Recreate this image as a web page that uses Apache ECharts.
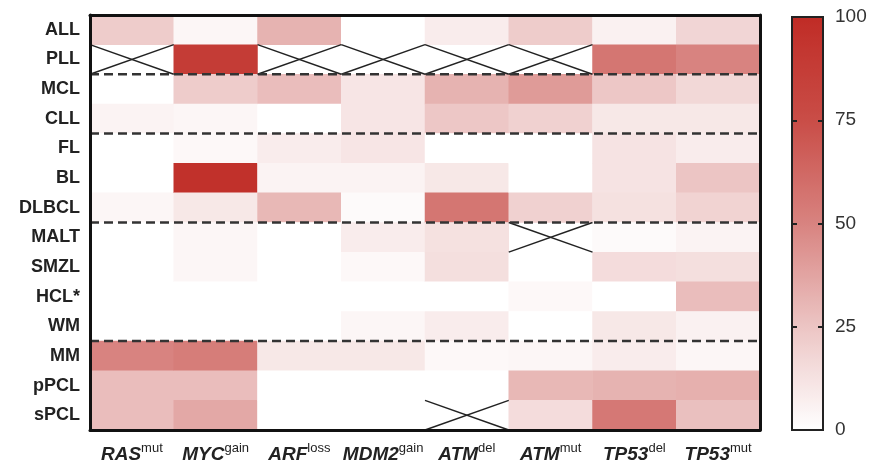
<!DOCTYPE html>
<html>
<head>
<meta charset="utf-8">
<script src="https://cdn.jsdelivr.net/npm/echarts@6/dist/echarts.min.js"></script>
<style>
  html, body { margin: 0; padding: 0; background: #fff; }
  #chart { width: 873px; height: 467px; }
</style>
</head>
<body>
<div id="chart"></div>
<script>
// Tumour entities (rows, top to bottom)
const tumours = ['ALL', 'PLL', 'MCL', 'CLL', 'FL', 'BL', 'DLBCL', 'MALT', 'SMZL', 'HCL*', 'WM', 'MM', 'pPCL', 'sPCL'];
// Alterations (columns): gene name and superscript tag
const genes = ['RAS', 'MYC', 'ARF', 'MDM2', 'ATM', 'ATM', 'TP53', 'TP53'];
const tags = ['mut', 'gain', 'loss', 'gain', 'del', 'mut', 'del', 'mut'];

// Frequency (%) per tumour entity for each alteration; null = not available
const rasMut   = [22, null, 0, 5, 0, 0, 4, 0, 0, 0, 0, 50, 28, 28];
const mycGain  = [4, 88, 22, 4, 3, 96, 10, 4, 4, 0, 0, 53, 28, 36];
const arfLoss  = [32, null, 28, 0, 8, 5, 30, 0, 0, 0, 0, 10, 0, 0];
const mdm2Gain = [0, null, 11, 11, 11, 5, 2, 8, 3, 0, 4, 10, 0, 0];
const atmDel   = [8, null, 32, 24, 0, 10, 56, 13, 14, 0, 8, 3, 0, null];
const atmMut   = [22, null, 41, 20, 0, 0, 20, null, 0, 3, 0, 4, 30, 15];
const tp53Del  = [6, 56, 24, 10, 12, 12, 13, 2, 15, 0, 10, 8, 32, 55];
const tp53Mut  = [18, 50, 17, 10, 8, 25, 19, 5, 14, 28, 6, 4, 33, 27];

const columns = [rasMut, mycGain, arfLoss, mdm2Gain, atmDel, atmMut, tp53Del, tp53Mut];
// Group separators: dashed line drawn below these rows
const groupEnds = ['PLL', 'CLL', 'DLBCL', 'WM'];
// Colour bar ticks
const barTicks = [0, 25, 50, 75, 100];

const cells = [];
const missing = [];
columns.forEach((col, ci) => {
  col.forEach((v, ri) => {
    if (v === null) missing.push([ci, ri]);
    else cells.push([ci, ri, v]);
  });
});

const xLabels = genes.map((g, i) => '{g|' + g + '}{s|' + tags[i] + '}');

const chart = echarts.init(document.getElementById('chart'));
chart.setOption({
  animation: false,
  backgroundColor: '#fff',
  grid: [
    { left: 90, right: 113, top: 15, bottom: 37 },
    { left: 792, width: 31, top: 17, bottom: 37, show: true, z: 6,
      backgroundColor: 'transparent', borderColor: '#222', borderWidth: 2 }
  ],
  xAxis: [
    {
      type: 'category', data: xLabels, gridIndex: 0, z: 10,
      axisLine: { show: true, lineStyle: { color: '#111', width: 3 } },
      axisTick: { show: false },
      splitLine: { show: false },
      axisLabel: {
        interval: 0,
        margin: 12,
        rich: {
          g: { fontFamily: 'Liberation Sans', fontStyle: 'italic', fontWeight: 'bold', fontSize: 19, color: '#222', lineHeight: 22, verticalAlign: 'bottom' },
          s: { fontFamily: 'Liberation Sans', fontSize: 13, color: '#222', lineHeight: 22, verticalAlign: 'top', padding: [0, 0, 6, 0] }
        }
      }
    },
    {
      type: 'category', data: xLabels, gridIndex: 0, position: 'top', z: 10,
      axisLine: { show: true, lineStyle: { color: '#111', width: 3 } },
      axisTick: { show: false }, axisLabel: { show: false }
    },
    { type: 'value', gridIndex: 1, show: false, min: 0, max: 1 }
  ],
  yAxis: [
    {
      type: 'category', data: tumours, inverse: true, gridIndex: 0, z: 10,
      axisLine: { show: true, lineStyle: { color: '#111', width: 3 } },
      axisTick: { show: false },
      axisLabel: { interval: 0, margin: 10, fontFamily: 'Liberation Sans', fontWeight: 'bold', fontSize: 18, color: '#222' }
    },
    {
      type: 'category', data: tumours, inverse: true, gridIndex: 0, position: 'right', z: 10,
      axisLine: { show: true, lineStyle: { color: '#111', width: 3 } },
      axisTick: { show: false }, axisLabel: { show: false }
    },
    {
      // colour bar scale: short marks on both inner edges via a split dash pattern
      type: 'value', gridIndex: 1, min: barTicks[0], max: barTicks[barTicks.length - 1], interval: 25,
      position: 'right', z: 7,
      axisLine: { show: false, onZero: false },
      axisTick: { show: false },
      splitLine: { show: true, lineStyle: { color: '#222', width: 2, type: [5, 21] } },
      axisLabel: { margin: 12, fontFamily: 'Liberation Sans', fontSize: 19, color: '#333' }
    }
  ],
  visualMap: {
    type: 'continuous',
    min: 0, max: 100,
    seriesIndex: 0,
    orient: 'vertical',
    left: 792, top: 17,
    padding: 0,
    itemWidth: 31, itemHeight: 413,
    calculable: false,
    text: null,
    showLabel: false,
    hoverLink: false,
    z: 1,
    inRange: { color: ['#ffffff', '#ecc5c4', '#d88380', '#c94d47', '#c02c26'] },
    textStyle: { color: 'transparent' }
  },
  series: [
    {
      type: 'heatmap',
      xAxisIndex: 0, yAxisIndex: 0,
      data: cells,
      itemStyle: { borderWidth: 0 },
      emphasis: { disabled: true }
    },
    {
      // crosses on cells without data
      type: 'custom',
      xAxisIndex: 0, yAxisIndex: 0,
      data: missing,
      z: 4,
      renderItem: function (params, api) {
        const c = api.coord([api.value(0), api.value(1)]);
        const s = api.size([1, 1]);
        const x0 = c[0] - s[0] / 2, x1 = c[0] + s[0] / 2;
        const y0 = c[1] - s[1] / 2, y1 = c[1] + s[1] / 2;
        const style = { stroke: '#222', lineWidth: 1.5 };
        return {
          type: 'group',
          children: [
            { type: 'line', shape: { x1: x0, y1: y0, x2: x1, y2: y1 }, style: style },
            { type: 'line', shape: { x1: x0, y1: y1, x2: x1, y2: y0 }, style: style }
          ]
        };
      }
    },
    {
      // dashed separators between tumour groups
      type: 'custom',
      xAxisIndex: 0, yAxisIndex: 0,
      data: groupEnds.map(n => [0, tumours.indexOf(n)]),
      z: 5,
      renderItem: function (params, api) {
        const c = api.coord([0, api.value(1)]);
        const s = api.size([1, 1]);
        const y = c[1] + s[1] / 2;
        const cs = params.coordSys;
        return {
          type: 'line',
          shape: { x1: cs.x, y1: y, x2: cs.x + cs.width, y2: y },
          style: { stroke: '#333', lineWidth: 2.5, lineDash: [9, 5] }
        };
      }
    }
  ]
});
</script>
</body>
</html>
